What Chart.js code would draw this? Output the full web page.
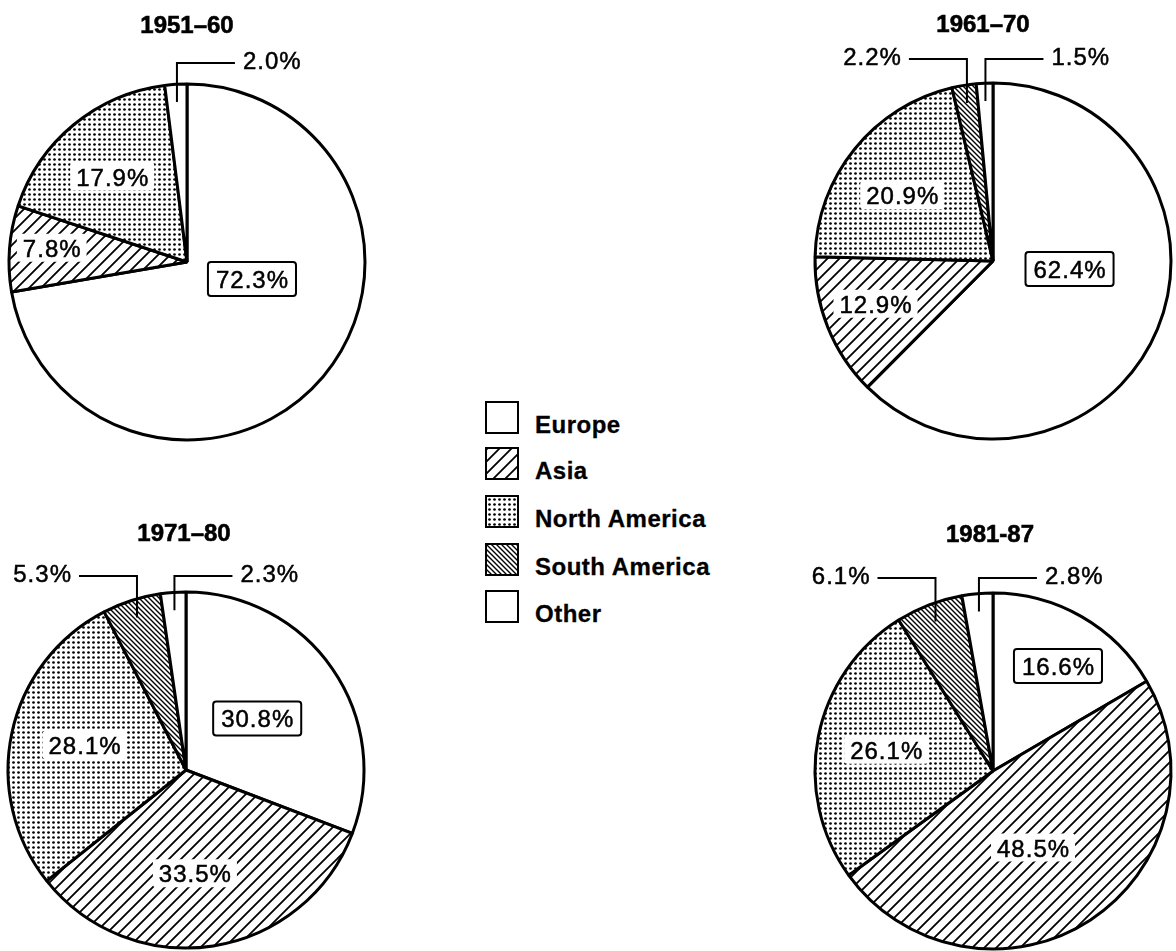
<!DOCTYPE html>
<html>
<head>
<meta charset="utf-8">
<script src="https://cdn.jsdelivr.net/npm/chart.js@4.4.0/dist/chart.umd.min.js"></script>
<style>
  html, body { margin: 0; padding: 0; background: #fff; overflow: hidden; }
  body { width: 1176px; height: 951px; position: relative; font-family: "Liberation Sans", Arial, sans-serif; }
  canvas.pie { position: absolute; }
  #legend { position: absolute; left: 485px; top: 401px; }
  .row { position: absolute; left: 0; width: 230px; height: 33px; }
  .sw { position: absolute; left: 0; top: 0; width: 30px; height: 29px; border: 2px solid #000; background-color: #fff; }
  .lbl { position: absolute; left: 50px; top: 12px; font-weight: bold; font-size: 24px; line-height: 24px;
         letter-spacing: 0.5px; white-space: nowrap; color: #000; -webkit-text-stroke: 0.3px #000; }
</style>
</head>
<body>
<canvas id="pie1" class="pie"></canvas>
<canvas id="pie2" class="pie"></canvas>
<canvas id="pie3" class="pie"></canvas>
<canvas id="pie4" class="pie"></canvas>
<div id="legend"></div>

<script>
// Data
const regions = ['Europe', 'Asia', 'North America', 'South America', 'Other'];
const periods = ['1951–60', '1961–70', '1971–80', '1981-87'];
const share1951 = [72.3, 7.8, 17.9, 0, 2.0];
const share1961 = [62.4, 12.9, 20.9, 2.2, 1.5];
const share1971 = [30.8, 33.5, 28.1, 5.3, 2.3];
const share1981 = [16.6, 48.5, 26.1, 6.1, 2.8];

const FONT = '"Liberation Sans", Arial, sans-serif';

// Pattern tiles (hatching, dots)
function makeTile(size, draw) {
  const c = document.createElement('canvas');
  c.width = size; c.height = size;
  const g = c.getContext('2d');
  g.fillStyle = '#fff';
  g.fillRect(0, 0, size, size);
  g.strokeStyle = '#000';
  g.fillStyle = '#000';
  draw(g, size);
  return c;
}

const blankTile = makeTile(4, () => {});

const asiaTile = makeTile(12, (g, s) => {
  g.lineWidth = 1.8;
  g.beginPath();
  g.moveTo(0, s); g.lineTo(s, 0);
  g.moveTo(-2, 2); g.lineTo(2, -2);
  g.moveTo(s - 2, s + 2); g.lineTo(s + 2, s - 2);
  g.stroke();
});

const dotTile = makeTile(5, (g) => {
  g.beginPath();
  g.arc(2.5, 2.5, 1.35, 0, Math.PI * 2);
  g.fill();
});

const southTile = makeTile(5, (g, s) => {
  g.lineWidth = 1.4;
  g.beginPath();
  g.moveTo(0, 0); g.lineTo(s, s);
  g.moveTo(-2, s - 2); g.lineTo(2, s + 2);
  g.moveTo(s - 2, -2); g.lineTo(s + 2, 2);
  g.stroke();
});

const tiles = [blankTile, asiaTile, dotTile, southTile, blankTile];

// Labels, leader lines and titles
const sliceNotes = {
  id: 'sliceNotes',
  afterDatasetsDraw(chart, args, o) {
    const ctx = chart.ctx;
    const arcs = chart.getDatasetMeta(0).data;
    const vals = chart.data.datasets[0].data;
    const cx = arcs[0].x, cy = arcs[0].y, r = arcs[0].outerRadius;
    ctx.save();

    ctx.fillStyle = '#000';
    ctx.strokeStyle = '#000';
    ctx.font = 'bold 24px ' + FONT;
    ctx.textAlign = 'center';
    ctx.textBaseline = 'alphabetic';
    ctx.lineWidth = 0.6;
    ctx.fillText(o.title, cx + o.titleDx, cy - 229);
    ctx.strokeText(o.title, cx + o.titleDx, cy - 229);

    ctx.font = '24px ' + FONT;
    ctx.letterSpacing = '1px';
    ctx.textAlign = 'left';

    const writeText = (txt, x, y) => {
      ctx.fillStyle = '#000';
      ctx.strokeStyle = '#000';
      ctx.lineWidth = 0.5;
      ctx.fillText(txt, x, y);
      ctx.strokeText(txt, x, y);
    };

    arcs.forEach((arc, i) => {
      const v = vals[i];
      if (!v) return;
      const txt = v.toFixed(1) + '%';
      const w = ctx.measureText(txt).width - 1;
      const place = o.inside[i];
      if (place) {
        const x = cx + place[0] * r, y = cy + place[1] * r;
        const boxed = i === o.boxed;
        const bw = w + (boxed ? 16 : 12), bh = boxed ? 34 : 28;
        ctx.fillStyle = '#fff';
        ctx.beginPath();
        ctx.roundRect(x - bw / 2, y - bh / 2, bw, bh, 3);
        ctx.fill();
        if (boxed) {
          ctx.lineWidth = 2;
          ctx.strokeStyle = '#000';
          ctx.stroke();
        }
        writeText(txt, x - w / 2, y + 9);
      } else if (o.callout[i]) {
        const mid = (arc.startAngle + arc.endAngle) / 2;
        const sx = cx + Math.cos(mid) * r * 0.9;
        const sy = cy + Math.sin(mid) * r * 0.9;
        const ey = cy - r - o.elbow;
        const dir = o.callout[i] === 'left' ? -1 : 1;
        const ex = sx + dir * 58;
        ctx.strokeStyle = '#000';
        ctx.lineWidth = 2;
        ctx.beginPath();
        ctx.moveTo(sx, sy);
        ctx.lineTo(sx, ey);
        ctx.lineTo(ex, ey);
        ctx.stroke();
        writeText(txt, dir > 0 ? ex + 8 : ex - 8 - w, ey + 6);
      }
    });
    ctx.restore();
  }
};

const CW = 420, CH = 540;

function makePie(id, cx, cy, r, values, notes) {
  const cv = document.getElementById(id);
  cv.width = CW; cv.height = CH;
  cv.style.width = CW + 'px'; cv.style.height = CH + 'px';
  cv.style.left = (cx - CW / 2) + 'px';
  cv.style.top = (cy - CH / 2) + 'px';
  const ctx = cv.getContext('2d');
  const fills = tiles.map(t => ctx.createPattern(t, 'repeat'));
  return new Chart(cv, {
    type: 'pie',
    data: {
      labels: regions,
      datasets: [{
        data: values,
        backgroundColor: fills,
        borderColor: '#000',
        borderWidth: 3,
        radius: r
      }]
    },
    options: {
      responsive: false,
      animation: false,
      events: [],
      layout: { padding: 0 },
      plugins: {
        legend: { display: false },
        tooltip: { enabled: false },
        sliceNotes: notes
      }
    },
    plugins: [sliceNotes]
  });
}

makePie('pie1', 187, 262, 178, share1951, {
  title: periods[0], titleDx: 0, elbow: 21, boxed: 0,
  inside: [[0.365, 0.096], [-0.76, -0.08], [-0.42, -0.48], null, null],
  callout: [null, null, null, null, 'right']
});
makePie('pie2', 993, 261, 178, share1961, {
  title: periods[1], titleDx: -10, elbow: 24, boxed: 0,
  inside: [[0.43, 0.045], [-0.66, 0.24], [-0.51, -0.37], null, null],
  callout: [null, null, null, 'left', 'right']
});
makePie('pie3', 186, 770, 178, share1971, {
  title: periods[2], titleDx: -2, elbow: 16, boxed: 0,
  inside: [[0.40, -0.29], [0.05, 0.58], [-0.57, -0.14], null, null],
  callout: [null, null, null, 'left', 'right']
});
makePie('pie4', 993, 771, 178, share1981, {
  title: periods[3], titleDx: -3, elbow: 15, boxed: 0,
  inside: [[0.365, -0.59], [0.225, 0.43], [-0.6, -0.12], null, null],
  callout: [null, null, null, 'left', 'right']
});

// Legend
const legend = document.getElementById('legend');
const rowTops = [0, 46, 94, 142, 189];
regions.forEach((name, i) => {
  const row = document.createElement('div');
  row.className = 'row';
  row.style.top = rowTops[i] + 'px';
  const sw = document.createElement('div');
  sw.className = 'sw';
  sw.style.backgroundImage = 'url(' + tiles[i].toDataURL() + ')';
  const lbl = document.createElement('div');
  lbl.className = 'lbl';
  lbl.textContent = name;
  row.appendChild(sw);
  row.appendChild(lbl);
  legend.appendChild(row);
});
</script>
</body>
</html>
